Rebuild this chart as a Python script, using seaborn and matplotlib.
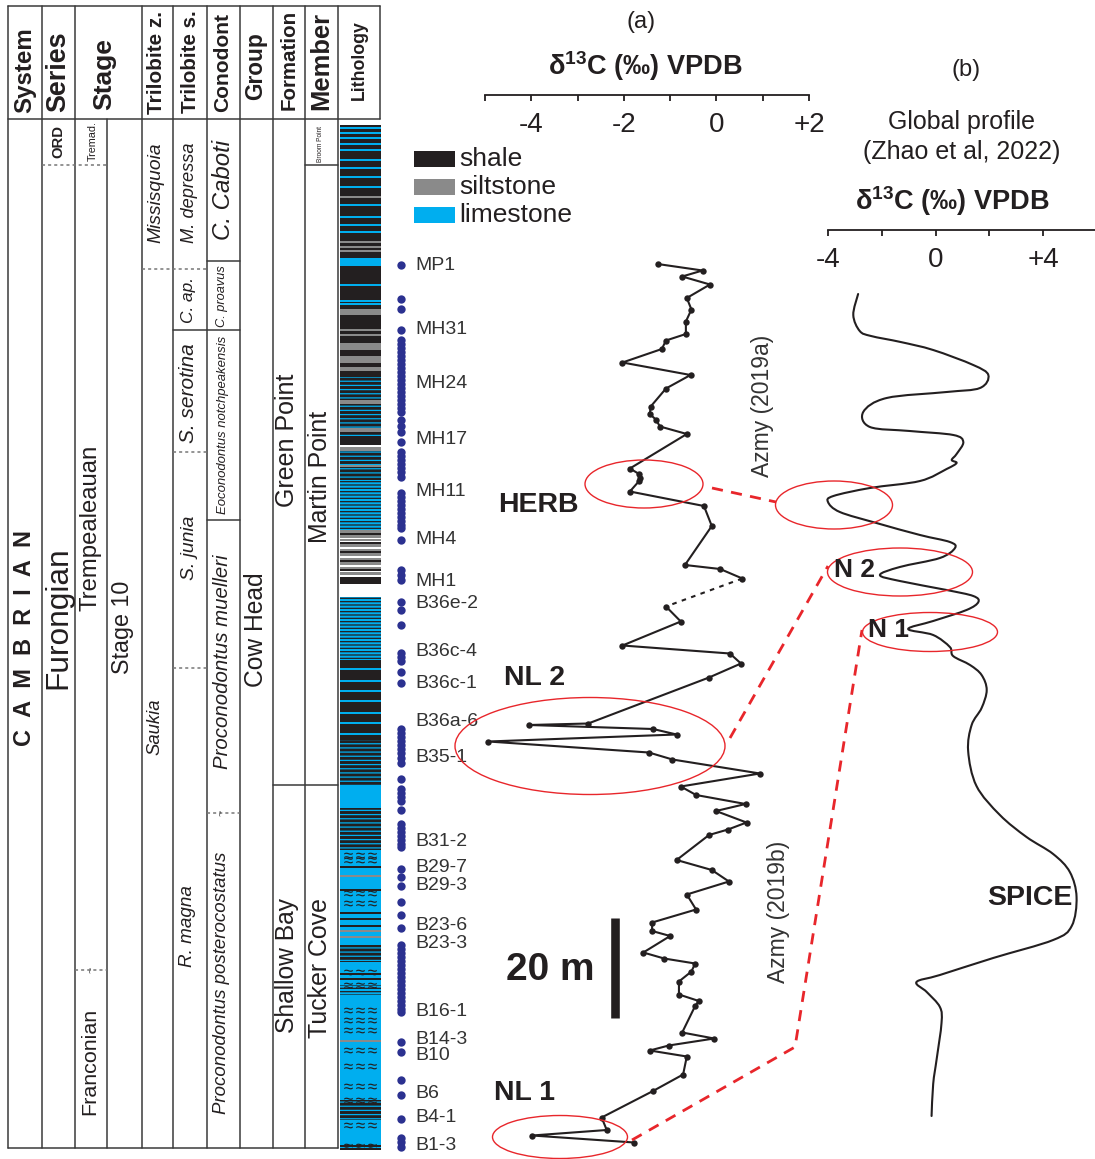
import matplotlib
matplotlib.use("Agg")
import matplotlib.pyplot as plt
from matplotlib import font_manager
from matplotlib.patches import Ellipse, Rectangle, PathPatch
from matplotlib.path import Path
from matplotlib.ticker import FixedLocator, FuncFormatter, NullFormatter
import numpy as np
import pandas as pd
import seaborn as sns

sns.set_theme(style="white")
installed = {f.name for f in font_manager.fontManager.ttflist}
SANS = "Liberation Sans" if "Liberation Sans" in installed else "DejaVu Sans"
NARROW = "Liberation Sans Narrow" if "Liberation Sans Narrow" in installed else SANS
plt.rcParams["font.family"] = [SANS, "DejaVu Sans"]
plt.rcParams["mathtext.default"] = "regular"
plt.rcParams["hatch.linewidth"] = 0.9

INK = "#231f20"
RED = "#e8262b"
NAVY = "#2b3190"
LITHO_COLORS = {"shale": "#231f20", "siltstone": "#8a8a8a", "limestone": "#00aeef"}

# ---------------- data (heights in metres above the base of the section) -------------
# delta13C record, upper part (Martin Point Member, MH/MP samples)
a_upper_d13c = [-1.27, -0.30, -0.74, -0.14, -0.64, -0.54, -0.66, -0.66, -1.09, -1.18,
                -2.03, -0.56, -1.09, -1.42, -1.44, -1.31, -1.22, -0.64, -1.87, -1.67,
                -1.65, -1.67, -1.87, -0.27, -0.10, -0.68, 0.08, 0.56]
a_upper_h = [177.2, 175.9, 174.7, 173.1, 170.4, 168.1, 165.7, 163.2, 161.9, 160.2,
             157.5, 155.0, 152.3, 148.7, 147.2, 146.1, 144.7, 143.2, 136.3, 135.2,
             134.4, 133.8, 131.7, 128.8, 124.8, 117.0, 116.2, 114.3]
# delta13C record, lower part (B samples)
a_lower_d13c = [-1.09, -0.77, -2.03, 0.29, 0.53, -0.16, -2.77, -4.05, -1.37, -0.86,
                -4.93, -1.46, -0.95, 0.94, -0.77, -0.44, 0.63, -0.01, 0.65, 0.25,
                -0.16, -0.86, -0.10, 0.27, -0.64, -0.44, -1.39, -1.39, -1.00, -1.58,
                -1.13, -0.46, -0.54, -0.81, -0.81, -0.38, -0.46, -0.74, -0.05, -1.03,
                -1.44, -0.64, -0.72, -1.37, -2.48, -2.37, -3.98, -1.78]
a_lower_h = [108.7, 105.7, 100.9, 99.3, 97.3, 94.5, 85.3, 85.0, 84.2, 83.1,
             81.7, 79.5, 78.1, 75.3, 72.7, 71.0, 69.2, 67.8, 65.5, 64.1,
             63.0, 58.0, 56.0, 53.7, 51.1, 48.1, 45.5, 43.8, 42.8, 39.5,
             38.3, 37.3, 35.7, 33.7, 31.1, 29.8, 28.8, 23.5, 22.3, 20.9,
             19.9, 18.7, 15.1, 11.8, 6.5, 4.0, 2.9, 1.5]

# global composite curve (Zhao et al., 2022), drawn on the same vertical frame
b_d13c = [-2.88, -3.06, -2.82, -2.40, -1.30, -0.09, 1.40, 1.96, 1.65, 0.41,
          -1.82, -2.69, -2.44, -0.96, 0.66, 1.03, 0.78, 0.60, 0.78, 0.41,
          -0.58, -2.44, -3.80, -4.00, -3.56, -2.20, -0.58, 0.53, 0.72, 0.16,
          -1.33, -2.07, -1.33, 0.41, 1.40, 1.59, 1.15, -0.09, -1.02, -0.09,
          0.53, 0.65, 1.28, 1.71, 1.90, 1.71, 1.34, 1.21, 1.52, 2.39,
          3.38, 4.37, 4.99, 5.24, 5.06, 4.37, 2.14, 0.16, -0.71, -0.33,
          0.16, 0.22, 0.04, -0.09, -0.15]
b_h = [171.2, 167.0, 163.8, 162.8, 161.6, 160.0, 157.0, 155.0, 152.4, 151.6,
       150.4, 147.6, 144.6, 143.8, 143.0, 141.6, 139.2, 138.0, 137.4, 136.2,
       133.8, 132.4, 130.8, 129.6, 127.6, 125.4, 123.0, 121.6, 120.4, 118.4,
       116.6, 115.0, 113.8, 112.0, 110.8, 109.6, 108.0, 105.8, 104.2, 103.0,
       100.6, 98.8, 97.0, 95.0, 92.0, 88.4, 85.0, 79.8, 72.8, 67.0,
       62.6, 59.2, 55.6, 50.6, 44.8, 42.0, 38.4, 35.0, 33.6, 31.6,
       28.6, 25.4, 18.2, 13.2, 6.8]

# sample positions
sample_h = [177.0, 170.2, 168.2, 164.0,
            162.0, 161.2, 160.4, 159.6, 158.8, 158.0, 157.2, 156.4, 155.6, 154.8,
            154.0, 153.2, 152.4, 151.6, 150.8, 150.0, 149.2, 148.4, 147.6,
            146.0, 144.8, 143.6, 141.6,
            139.6, 138.8, 138.0, 137.2, 136.4, 135.6, 134.6,
            131.4, 130.6, 129.8, 129.0, 128.2, 127.4, 126.6, 125.8, 125.0, 124.4,
            122.0, 116.0, 115.0, 114.0, 109.6, 108.0, 105.0,
            99.4, 98.6, 97.8, 95.6, 93.4,
            84.2, 83.4, 82.6, 81.8, 81.0, 80.2, 79.4, 78.4,
            77.4, 74.2, 72.2, 71.4, 70.6, 69.8, 68.0,
            65.2, 64.4, 63.6, 62.8, 62.0, 61.2, 60.6,
            56.2, 54.6, 52.8, 49.6, 47.0, 44.4,
            41.0, 40.2, 39.4, 38.6, 37.8, 37.0, 36.2, 35.4, 34.6, 33.8,
            33.0, 32.2, 31.4, 30.6, 29.8, 29.0, 28.2, 27.6,
            21.6, 19.6, 14.0, 11.0, 6.2, 2.4, 1.6, 0.6]
sample_names = ["MP1", "MH31", "MH24", "MH17", "MH11", "MH4", "MH1", "B36e-2",
                "B36c-4", "B36c-1", "B36a-6", "B35-1", "B31-2", "B29-7", "B29-3",
                "B23-6", "B23-3", "B16-1", "B14-3", "B10", "B6", "B4-1", "B1-3"]
sample_label_h = [176.8, 164.2, 153.4, 142.2, 131.8, 122.0, 113.8, 109.4,
                  99.8, 93.2, 85.6, 78.6, 61.8, 56.4, 52.8,
                  45.0, 41.4, 27.8, 22.2, 19.0, 11.4, 6.4, 1.0]

# lithological log: beds as (top, base) in metres
shale_beds = [(205.0, 178.4), (176.8, 168.2), (167.0, 161.4), (160.0, 158.8), (157.4, 156.6),
              (155.8, 154.6), (142.8, 141.0), (123.4, 123.1), (121.6, 121.3), (119.8, 119.5),
              (118.0, 117.7), (116.2, 115.9), (114.6, 113.2), (98.0, 82.0),
              (56.8, 56.4), (52.2, 51.8), (47.6, 47.2), (46.4, 46.0), (45.0, 44.6),
              (35.4, 35.0), (34.4, 34.0), (1.0, 0.6), (0.4, 0.0)]
siltstone_beds = [(190.8, 190.5), (181.8, 181.4), (180.8, 180.4), (180.0, 179.6), (168.2, 167.0),
                  (164.2, 163.8), (163.2, 162.9), (161.4, 160.0), (158.8, 157.4), (156.6, 155.8),
                  (150.0, 149.2), (144.4, 143.6), (140.6, 139.8), (137.0, 136.6),
                  (124.0, 123.5), (123.0, 122.5), (122.2, 121.8), (121.2, 120.7), (120.3, 119.9),
                  (119.4, 118.9), (118.5, 118.1), (117.6, 117.0), (116.7, 116.3), (115.6, 115.1),
                  (55.0, 54.6), (44.0, 43.6), (42.8, 42.4), (22.0, 21.6)]
limestone_beds = [(204.5, 204.2), (203.5, 203.2), (202.5, 202.2), (201.4, 201.1), (200.2, 199.9),
                  (198.2, 197.9), (196.6, 196.3), (194.8, 194.5), (192.8, 192.5), (189.2, 188.9),
                  (186.8, 186.5), (185.2, 184.9), (183.8, 183.5), (178.4, 176.8), (173.2, 172.9),
                  (170.0, 169.7), (169.4, 169.1), (96.4, 96.1), (94.0, 93.7), (92.0, 91.7),
                  (90.0, 89.7), (87.6, 87.3), (85.6, 85.3), (83.4, 83.1), (73.0, 68.4),
                  (60.0, 0.0)]
# thinly interbedded intervals: shale-dominated and limestone-dominated
shale_limestone_beds = [(154.6, 150.0), (149.2, 144.4), (143.6, 141.0), (139.8, 134.0),
                        (82.0, 73.0), (68.4, 60.0), (41.0, 37.6), (10.0, 6.0)]
limestone_shale_beds = [(134.0, 124.0), (110.6, 98.0), (33.0, 31.0)]
nodule_rows = [59.0, 58.0, 51.4, 49.4, 35.6, 33.0, 28.0, 26.0, 24.0, 20.0, 16.8, 12.8,
               10.0, 5.0, 0.8]
scale_bar_base, scale_bar_len = 26.4, 20.0

# ---------------- figure frame ----------------
W, H = 1095, 1159
H_TOP = 230.0                 # height at the top edge of the figure
H_BOT = H_TOP - H / 5.0       # 5 px per metre
fig = plt.figure(figsize=(W / 100, H / 100), dpi=100, facecolor="white")
renderer = fig.canvas.get_renderer()


def frame_axes(rect, z):
    ax = fig.add_axes(rect)
    ax.set_zorder(z)
    ax.patch.set_visible(False)
    return ax


dep = frame_axes([0, 0, 1, 1], 1)
dep.set_xlim(0, W)
dep.set_ylim(H_BOT, H_TOP)
dep.axis("off")

lay = frame_axes([0, 0, 1, 1], 4)
lay.set_xlim(0, W)
lay.set_ylim(H, 0)
lay.axis("off")

# ---------------- lithology column ----------------
bed_styles = {
    "shale": dict(color=LITHO_COLORS["shale"]),
    "siltstone": dict(color=LITHO_COLORS["siltstone"]),
    "limestone": dict(color=LITHO_COLORS["limestone"]),
    "shale_limestone": dict(color=LITHO_COLORS["shale"], hatch="----",
                            edgecolor=LITHO_COLORS["limestone"]),
    "limestone_shale": dict(color=LITHO_COLORS["limestone"], hatch="-----",
                            edgecolor=LITHO_COLORS["shale"]),
}
beds = pd.concat([
    pd.DataFrame(shale_beds, columns=["top", "base"]).assign(lith="shale"),
    pd.DataFrame(siltstone_beds, columns=["top", "base"]).assign(lith="siltstone"),
    pd.DataFrame(limestone_beds, columns=["top", "base"]).assign(lith="limestone"),
    pd.DataFrame(shale_limestone_beds, columns=["top", "base"]).assign(lith="shale_limestone"),
    pd.DataFrame(limestone_shale_beds, columns=["top", "base"]).assign(lith="limestone_shale"),
], ignore_index=True)
beds["thick"] = beds["top"] - beds["base"]
beds = beds.sort_values("thick", ascending=False)
for _, b in beds.iterrows():
    dep.bar(360.5, b.thick, bottom=b.base, width=41, linewidth=0, **bed_styles[b.lith])
for h in nodule_rows:
    dep.scatter([348, 360, 372], [h] * 3, marker=r"$\approx$", s=38, color=INK,
                linewidths=0, zorder=3)

# sample positions and labels
sns.scatterplot(x=np.full(len(sample_h), 401.0), y=sample_h, ax=dep, color=NAVY,
                s=36, linewidth=0, zorder=3, legend=False)
for name, h in zip(sample_names, sample_label_h):
    dep.text(415, h, name, va="center", ha="left", fontsize=14, color="#333333")

# scale bar
dep.vlines(615, scale_bar_base, scale_bar_base + scale_bar_len, color=INK, lw=6.2)

# ---------------- delta13C panel (a) ----------------
axa = frame_axes([485 / W, 0, (809 - 485) / W, 1], 2)
axa.set_xlim(-5, 2)
axa.set_ylim(H_BOT, H_TOP)
line_kw = dict(sort=False, estimator=None, color=INK, lw=1.5, marker="o",
               markersize=4.6, markeredgewidth=0, legend=False, clip_on=False)
sns.lineplot(x=a_upper_d13c, y=a_upper_h, ax=axa, **line_kw)
sns.lineplot(x=a_lower_d13c, y=a_lower_h, ax=axa, **line_kw)
axa.plot([a_upper_d13c[-1], a_lower_d13c[0]], [a_upper_h[-1], a_lower_h[0]],
         color=INK, lw=1.5, ls=(0, (2.2, 2.6)))

# ---------------- global profile (b) ----------------
axb = frame_axes([828 / W, 0, (W - 828) / W, 1], 2)
axb.set_xlim(-4, -4 + (W - 828) / 26.9)
axb.set_ylim(H_BOT, H_TOP)
pts = np.column_stack([b_d13c, b_h])
ext = np.vstack([pts[0], pts, pts[-1]])
verts, codes = [pts[0]], [Path.MOVETO]
for i in range(len(pts) - 1):
    p0, p1, p2, p3 = ext[i], ext[i + 1], ext[i + 2], ext[i + 3]
    verts += [p1 + (p2 - p0) / 6.0, p2 - (p3 - p1) / 6.0, p2]
    codes += [Path.CURVE4] * 3
axb.add_patch(PathPatch(Path(verts, codes), fill=False, edgecolor=INK, lw=1.5,
                        clip_on=False, capstyle="round", joinstyle="round"))


def style_axis(ax, spine_h, major, minor):
    for s in ("left", "right", "top"):
        ax.spines[s].set_visible(False)
    ax.spines["bottom"].set_position(("data", spine_h))
    ax.spines["bottom"].set_color(INK)
    ax.spines["bottom"].set_linewidth(1.3)
    ax.xaxis.set_major_locator(FixedLocator(major))
    ax.xaxis.set_minor_locator(FixedLocator(minor))
    ax.xaxis.set_major_formatter(FuncFormatter(lambda v, p: f"+{v:.0f}" if v > 0 else f"{v:.0f}"))
    ax.xaxis.set_minor_formatter(NullFormatter())
    ax.tick_params(axis="x", which="both", bottom=True, direction="out", length=4.5,
                   width=1.3, color=INK, labelsize=20, labelcolor=INK, pad=8)
    ax.set_yticks([])
    ax.set_xlabel("")
    ax.set_ylabel("")
    ax.grid(False)


style_axis(axa, H_TOP - 95 / 5, [-4, -2, 0, 2], [-5, -3, -1, 1])
style_axis(axb, H_TOP - 230 / 5, [-4, 0, 4], [-2, 2])

title = "δ$^{13}$C (‰) VPDB"
lay.text(641, 22, "(a)", ha="center", va="center", fontsize=17, color=INK)
lay.text(645, 66, title, ha="center", va="center", fontsize=19.5, fontweight="bold", color=INK)
lay.text(966, 70, "(b)", ha="center", va="center", fontsize=17, color=INK)
lay.text(961, 122, "Global profile", ha="center", va="center", fontsize=18, color=INK)
lay.text(962, 152, "(Zhao et al, 2022)", ha="center", va="center", fontsize=18, color=INK)
lay.text(952, 201, title, ha="center", va="center", fontsize=19.5, fontweight="bold", color=INK)

# ---------------- legend ----------------
for i, (name, col) in enumerate(LITHO_COLORS.items()):
    y0 = 151 + 28 * i
    lay.add_patch(Rectangle((414, y0), 41, 16, facecolor=col, edgecolor="none"))
    lay.text(459, y0 + 8, name, va="center", ha="left", fontsize=19, color=INK)

# ---------------- stratigraphic table ----------------
LC = "#3a3a3a"
for x in (8, 42, 75, 142, 173, 207, 240, 273, 305, 338):
    lay.plot([x, x], [6, 1148], color=LC, lw=1.1)
lay.plot([107, 107], [119, 1148], color=LC, lw=1.1)
lay.plot([380, 380], [6, 119], color=LC, lw=1.1)
for y, x0, x1 in ((6, 8, 380), (119, 8, 380), (1148, 8, 338), (165, 305, 338),
                  (261, 207, 240), (330, 173, 240), (520, 207, 240), (785, 273, 338)):
    lay.plot([x0, x1], [y, y], color=LC, lw=1.1)
for y, x0, x1 in ((165, 42, 107), (269, 142, 207), (452, 173, 207), (668, 173, 207),
                  (813, 207, 240), (970, 75, 107)):
    lay.plot([x0, x1], [y, y], color="#777777", lw=1.1, ls=(0, (2, 2)))
for x, y in ((222, 813), (92, 970)):
    lay.text(x, y, "~", rotation=90, ha="center", va="center", fontsize=8, color="#555555")


def fit_text(x, y, s, span, family=NARROW, rot=90, **kw):
    t = lay.text(x, y, s, rotation=rot, ha="center", va="center", fontsize=10,
                 family=family, color=INK, **kw)
    ext_box = t.get_window_extent(renderer=renderer)
    length = ext_box.height if rot == 90 else ext_box.width
    t.set_fontsize(10 * span / length)
    return t


headers = [("System", 25, 70, 86), ("Series", 58, 72, 81), ("Stage", 104, 74, 72),
           ("Trilobite z.", 157, 62, 103), ("Trilobite s.", 190, 62, 103),
           ("Conodont", 223, 62, 99), ("Group", 256, 66, 68), ("Formation", 289, 60, 100),
           ("Member", 321, 61, 98), ("Lithology", 359, 60, 80)]
for s, x, y, span in headers:
    fit_text(x, y, s, span, fontweight="bold")

fit_text(25, 638, "C  A  M  B  R  I  A  N", 215, family=SANS, fontweight="bold")
fit_text(58, 141, "ORD", 33, fontweight="bold")
plain = [("Tremad.", 93, 141, 40), ("Furongian", 58, 618, 143),
         ("Trempealeauan", 91, 528, 167), ("Stage 10", 123, 627, 93),
         ("Franconian", 90, 1061, 108), ("Cow Head", 256, 630, 115),
         ("Green Point", 287, 440, 134), ("Martin Point", 320, 477, 133),
         ("Shallow Bay", 287, 965, 136), ("Tucker Cove", 320, 968, 141),
         ("Broom Point", 321, 144, 36)]
for s, x, y, span in plain:
    fit_text(x, y, s, span)
italic = [("Missisquoia", 156, 193, 101), ("Saukia", 155, 727, 57),
          ("M. depressa", 189, 193, 101), ("C. ap.", 189, 300, 46),
          ("S. serotina", 189, 393, 100), ("S. junia", 189, 548, 65),
          ("R. magna", 187, 926, 82), ("C. Caboti", 223, 190, 100),
          ("C. proavus", 222, 296, 62), ("Eoconodontus notchpeakensis", 223, 425, 180),
          ("Proconodontus muelleri", 222, 662, 215),
          ("Proconodontus posterocostatus", 222, 983, 263)]
for s, x, y, span in italic:
    fit_text(x, y, s, span, style="italic")

# ---------------- annotations ----------------
for (cx, cy, w, h) in ((644, 484, 118, 48), (590, 746, 270, 97), (560, 1137, 135, 43),
                       (834, 505, 117, 48), (900, 572, 145, 48), (930, 632, 135, 39)):
    lay.add_patch(Ellipse((cx, cy), w, h, fill=False, edgecolor=RED, lw=1.0))
for xs, ys in (([712, 776], [488, 502]), ([730, 828], [738, 566]),
               ([632, 795, 862], [1140, 1047, 630])):
    lay.plot(xs, ys, color=RED, lw=2.0, ls=(0, (4, 3)))

bold_labels = [("HERB", 538, 505, 20.5), ("NL 2", 535, 678, 20.5), ("NL 1", 524, 1093, 20.5),
               ("20 m", 550, 970, 28), ("SPICE", 1030, 898, 20.5), ("N 2", 855, 570, 19),
               ("N 1", 888, 630, 19)]
for s, x, y, fs in bold_labels:
    lay.text(x, y, s, ha="center", va="center", fontsize=fs, fontweight="bold", color=INK)
lay.text(762, 406, "Azmy (2019a)", rotation=90, ha="center", va="center", fontsize=16.5,
         color="#333333")
lay.text(779, 912, "Azmy (2019b)", rotation=90, ha="center", va="center", fontsize=16.5,
         color="#333333")

fig.savefig("out.png", dpi=100, facecolor="white")
